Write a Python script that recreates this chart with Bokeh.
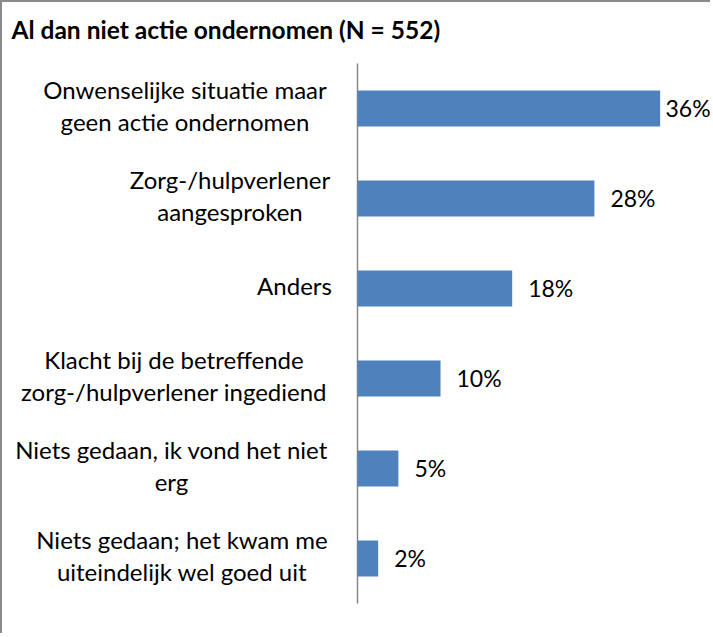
from bokeh.plotting import figure
from bokeh.models import Range1d, Label, LabelSet, ColumnDataSource
from bokeh.core.properties import value
from bokeh.embed import file_html
from bokeh.resources import INLINE

title_text = "Al dan niet actie ondernomen (N = 552)"
categories = [
    "Onwenselijke situatie maar\ngeen actie ondernomen",
    "Zorg-/hulpverlener\naangesproken",
    "Anders",
    "Klacht bij de betreffende\nzorg-/hulpverlener ingediend",
    "Niets gedaan, ik vond het niet\nerg",
    "Niets gedaan; het kwam me\nuiteindelijk wel goed uit",
]
values = [35.9, 28.1, 18.35, 9.85, 4.85, 2.45]
value_labels = ["36%", "28%", "18%", "10%", "5%", "2%"]

# layout in canvas px (canvas begins 2px in, after the CSS border)
W, H = 710, 633
AXIS_X = 355          # canvas x of the category axis
CAT_TOP = 61          # canvas y of top of the category band
CAT_BOTTOM = 601      # canvas y of bottom of the category band
PX_PER_PCT = 8.43
LABEL_GAP = 16
LABEL_W = 46          # approx. width of a value label
# horizontal centres (px, relative to axis) of each wrapped category label block
label_centres = [-172.5, -127.5, -63, -183.5, -186, -175.5]

n = len(categories)
px_per_cat = (CAT_BOTTOM - CAT_TOP) / n
ys = [n - 0.5 - i for i in range(n)]
# value labels: keep them inside the canvas
x_offs = [min(LABEL_GAP, W - 1 - LABEL_W - (AXIS_X + v * PX_PER_PCT)) for v in values]

p = figure(width=W, height=H, output_backend="svg", toolbar_location=None,
           x_range=Range1d(-AXIS_X / PX_PER_PCT, (W - AXIS_X) / PX_PER_PCT),
           y_range=Range1d(-(H - CAT_BOTTOM) / px_per_cat, n + CAT_TOP / px_per_cat),
           min_border=0)
p.styles = {"border-left": "2px solid #8a8a8a", "border-top": "2px solid #8a8a8a"}
p.outline_line_color = None
p.grid.visible = False
p.axis.visible = False
p.background_fill_color = "white"
p.border_fill_color = "white"

# category axis line
p.segment(x0=[0], y0=[0], x1=[0], y1=[n], line_color="#868686", line_width=1.5)

src = ColumnDataSource(dict(y=ys, v=values, lab=value_labels, xo=x_offs))
p.hbar(y="y", right="v", left=0, height=0.4, source=src,
       fill_color="#4F81BD", line_color=None)

p.add_layout(LabelSet(x="v", y="y", text="lab", source=src, x_offset="xo", y_offset=1,
                      text_font=value("Lato"), text_font_size="23px",
                      text_color="#000000", text_baseline="middle", text_align="left"))

for i, cat in enumerate(categories):
    lines = cat.split("\n")
    k = len(lines)
    for j, line in enumerate(lines):
        off = ((k - 1) / 2 - j) * 31.5
        p.add_layout(Label(x=0, y=ys[i], x_offset=label_centres[i],
                           y_offset=off + 3, text=line, text_font="Lato",
                           text_font_size="24px", text_color="#000000",
                           text_align="center", text_baseline="middle"))

p.add_layout(Label(x=0, y=n, x_offset=-346, y_offset=34,
                   text=title_text, text_font="Lato", text_font_style="bold",
                   text_font_size="24.5px", text_color="#000000",
                   text_align="left", text_baseline="alphabetic"))

open("out.html", "w").write(file_html(p, INLINE))
